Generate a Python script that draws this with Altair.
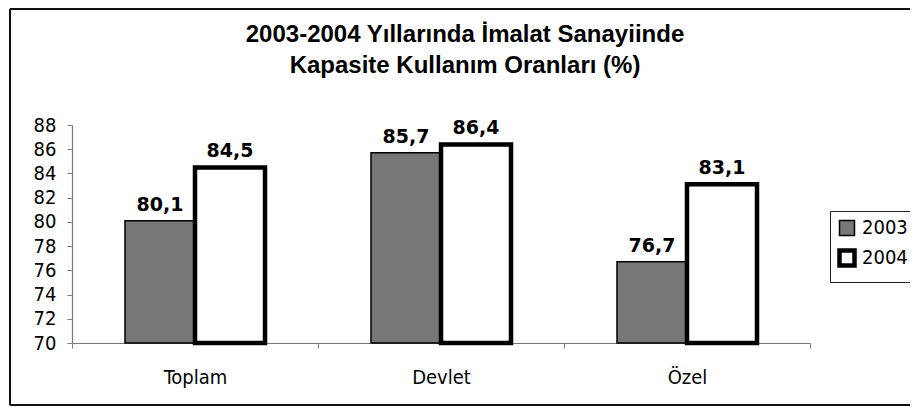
import altair as alt
import pandas as pd

categories = ["Toplam", "Devlet", "Özel"]
years = ["2003", "2004"]
values_2003 = [80.1, 85.7, 76.7]
values_2004 = [84.5, 86.4, 83.1]
y_ticks = [70, 72, 74, 76, 78, 80, 82, 84, 86, 88]
title_line1 = "2003-2004 Yıllarında İmalat Sanayiinde"
title_line2 = "Kapasite Kullanım Oranları (%)"

rows = []
for c, a, b in zip(categories, values_2003, values_2004):
    rows.append({"kategori": c, "yil": "2003", "deger": a})
    rows.append({"kategori": c, "yil": "2004", "deger": b})
df = pd.DataFrame(rows)

LABEL_FONT = "DejaVu Sans Condensed, DejaVu Sans"

x_enc = alt.X("kategori:N", sort=categories,
              scale=alt.Scale(paddingInner=0, paddingOuter=0),
              axis=alt.Axis(title=None, labelAngle=0, tickBand="extent",
                            labelFont=LABEL_FONT, labelFontSize=20, labelColor="black",
                            labelPadding=19, tickSize=5, tickColor="#7a7a7a",
                            domainColor="#7a7a7a", domainWidth=1.2))
xoff_enc = alt.XOffset("yil:N", sort=years,
                       scale=alt.Scale(paddingInner=0, paddingOuter=0.757))
y_enc = alt.Y("deger:Q", scale=alt.Scale(domain=[70, 88], zero=False, nice=False),
              axis=alt.Axis(title=None, values=y_ticks, grid=False, labelOverlap=False,
                            labelFont=LABEL_FONT, labelFontSize=20, labelColor="black",
                            labelPadding=11, tickSize=5, tickColor="#7a7a7a",
                            domainColor="#7a7a7a", domainWidth=1.2))

base = alt.Chart(df)

bars = base.mark_bar().encode(
    x=x_enc,
    xOffset=xoff_enc,
    y=y_enc,
    y2=alt.datum(70),
    fill=alt.Fill("yil:O", sort=years,
                  scale=alt.Scale(domain=years, range=["#777777", "#ffffff"]),
                  legend=alt.Legend(title=None)),
    stroke=alt.Stroke("yil:O", sort=years,
                      scale=alt.Scale(domain=years, range=["#000000", "#000000"]),
                      legend=alt.Legend(title=None)),
    strokeWidth=alt.StrokeWidth("yil:O", sort=years,
                                scale=alt.Scale(domain=years, range=[1.5, 4.5]),
                                legend=alt.Legend(title=None)),
)

labels = base.mark_text(font="DejaVu Sans", fontSize=19, fontWeight="bold",
                        baseline="alphabetic", dy=-10, color="black").transform_calculate(
    etiket="replace(format(datum.deger, '.1f'), '.', ',')"
).encode(
    x=x_enc,
    xOffset=xoff_enc,
    y=y_enc,
    text="etiket:N",
)

frame_data = alt.Data(values=[{"k": 1}])
title1 = alt.Chart(frame_data).mark_text(
    font="Liberation Sans", fontSize=24, fontWeight="bold", color="black",
    align="center", baseline="alphabetic").encode(
    x=alt.value(393), y=alt.value(-83), text=alt.value(title_line1))
title2 = alt.Chart(frame_data).mark_text(
    font="Liberation Sans", fontSize=24, fontWeight="bold", color="black",
    align="center", baseline="alphabetic").encode(
    x=alt.value(393), y=alt.value(-52), text=alt.value(title_line2))

left_border = alt.Chart(frame_data).mark_rule(color="#111", strokeWidth=2).encode(
    x=alt.value(-62), y=alt.value(-116), y2=alt.value(280))
top_border = alt.Chart(frame_data).mark_rule(color="#111", strokeWidth=2).encode(
    x=alt.value(-62), x2=alt.value(840), y=alt.value(-116))
bottom_border = alt.Chart(frame_data).mark_rule(color="#111", strokeWidth=2).encode(
    x=alt.value(-62), x2=alt.value(840), y=alt.value(280))

chart = alt.layer(bars, labels, title1, title2, left_border, top_border, bottom_border).properties(
    width=738,
    height=218,
    autosize=alt.AutoSizeParams(type="none"),
    padding={"left": 64, "top": 117, "right": 100, "bottom": 63},
).configure_view(stroke=None).configure_legend(
    orient="none", legendX=758, legendY=86,
    padding=7, strokeColor="#222", fillColor="white",
    labelFont=LABEL_FONT, labelFontSize=20, labelColor="black", labelOffset=5,
    symbolType="square", symbolSize=225, symbolStrokeColor="black",
    rowPadding=2,
)

chart.save("out.html", embed_options={"renderer": "svg", "actions": False})
